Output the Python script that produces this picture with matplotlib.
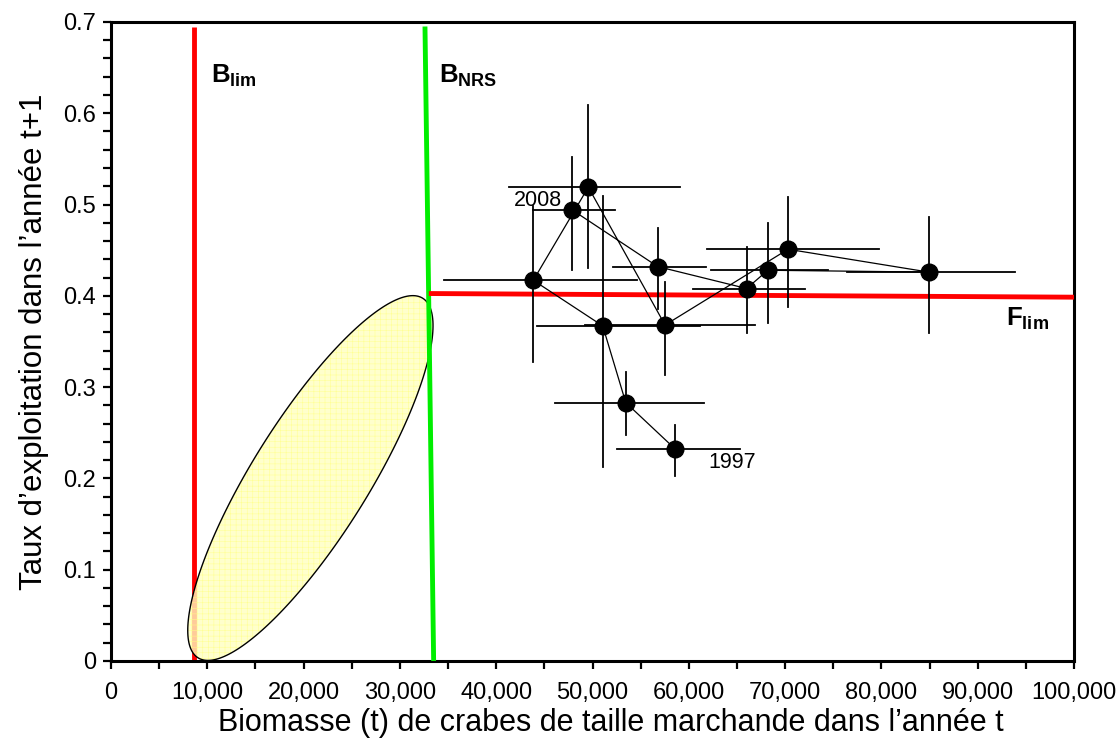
import numpy as np
import matplotlib.pyplot as plt
from matplotlib.patches import Polygon
from matplotlib.ticker import MultipleLocator, FuncFormatter

plt.rcParams['font.family'] = ['Liberation Sans', 'DejaVu Sans']
plt.rcParams['mathtext.fontset'] = 'custom'
plt.rcParams['mathtext.rm'] = 'Liberation Sans'
plt.rcParams['mathtext.bf'] = 'Liberation Sans:bold'
plt.rcParams['hatch.linewidth'] = 0.4

# series: biomass in year t vs exploitation rate in year t+1
years = list(range(1997, 2009))
biomass = [58600, 53450, 51060, 43850, 49560, 57530, 70300, 84900, 68200, 66000, 56770, 47900]
biomass_low = [52500, 46100, 44200, 34600, 41300, 49200, 61900, 76400, 62300, 60400, 52100, 43850]
biomass_high = [65300, 61600, 61200, 54600, 59100, 66900, 79700, 93900, 74500, 72100, 61800, 52300]
expl = [0.232, 0.283, 0.367, 0.417, 0.519, 0.368, 0.451, 0.426, 0.428, 0.408, 0.432, 0.494]
expl_low = [0.203, 0.248, 0.213, 0.328, 0.430, 0.313, 0.388, 0.359, 0.370, 0.359, 0.386, 0.428]
expl_high = [0.258, 0.317, 0.509, 0.498, 0.609, 0.415, 0.508, 0.486, 0.480, 0.454, 0.474, 0.552]

# reference points
b_lim = 8600
b_nrs_top, b_nrs_bottom = 32600, 33500
f_lim_left, f_lim_right = 0.4025, 0.3985
ref_top = 0.695

fig = plt.figure(figsize=(11.16, 7.44), dpi=100)
ax = fig.add_axes([0.0995, 0.1116, 0.8629, 0.8589])
ax.set_xlim(0, 100000)
ax.set_ylim(0, 0.7)

# ellipse zone (center in data, half axes in pixels)
ax_w = 0.8629 * 1116
ax_h = 0.8589 * 744
sx = 100000 / ax_w
sy = 0.7 / ax_h
cx, cy = 20700, 0.2004
a_px, b_px, ang = 212, 58, np.deg2rad(58)
t = np.linspace(0, 2 * np.pi, 240)
u = a_px * np.cos(t)
v = b_px * np.sin(t)
ex = cx + (u * np.cos(ang) - v * np.sin(ang)) * sx
ey = cy + (u * np.sin(ang) + v * np.cos(ang)) * sy
pts = np.column_stack([ex, ey])

ax.plot([b_lim, b_lim], [0, ref_top], color='#ff0000', lw=3.5, zorder=2, solid_capstyle='butt')
ax.add_patch(Polygon(pts, closed=True, facecolor='#ffffc0', edgecolor='#ffff88',
                     lw=0, hatch='+++', alpha=0.8, zorder=3))
ax.add_patch(Polygon(pts, closed=True, fill=False, edgecolor='black', lw=1.0, zorder=4))
ax.plot([b_nrs_top, b_nrs_bottom], [ref_top, 0], color='#00ee00', lw=3.5, zorder=5,
        solid_capstyle='butt')
ax.plot([33000, 100000], [f_lim_left, f_lim_right], color='#ff0000', lw=3.5, zorder=5,
        solid_capstyle='butt')

# error bars
for i in range(len(years)):
    ax.plot([biomass_low[i], biomass_high[i]], [expl[i], expl[i]], color='black', lw=1.3, zorder=6)
    ax.plot([biomass[i], biomass[i]], [expl_low[i], expl_high[i]], color='black', lw=1.3, zorder=6)

ax.plot(biomass, expl, color='black', lw=0.9, zorder=7)
ax.plot(biomass, expl, 'o', color='black', markersize=12, zorder=8)

ax.text(46830, 0.498, str(years[-1]), fontsize=15.5, ha='right', va='baseline', zorder=9)
ax.text(62000, 0.211, str(years[0]), fontsize=15.5, ha='left', va='baseline', zorder=9)

ax.text(10380, 0.634, r'$\mathbf{B}_{\mathbf{lim}}$', fontsize=18.5, va='baseline')
ax.text(34060, 0.634, r'$\mathbf{B}_{\mathbf{NRS}}$', fontsize=18.5, va='baseline')
ax.text(92940, 0.367, r'$\mathbf{F}_{\mathbf{lim}}$', fontsize=18.5, va='baseline')

ax.xaxis.set_major_locator(MultipleLocator(10000))
ax.xaxis.set_minor_locator(MultipleLocator(5000))
ax.yaxis.set_major_locator(MultipleLocator(0.1))
ax.yaxis.set_minor_locator(MultipleLocator(0.02))
ax.xaxis.set_major_formatter(FuncFormatter(lambda v, p: f'{int(v):,}'))
ax.yaxis.set_major_formatter(FuncFormatter(lambda v, p: '0' if v == 0 else f'{v:.1f}'))

ax.tick_params(which='both', direction='out', length=6, width=1.6, top=False, right=False)
ax.tick_params(axis='x', which='major', labelsize=17, pad=9)
ax.tick_params(axis='y', which='major', labelsize=17, pad=5)
for s in ax.spines.values():
    s.set_linewidth(2.2)

ax.set_xlabel("Biomasse (t) de crabes de taille marchande dans l\u2019ann\u00e9e t", fontsize=22, labelpad=3)
ax.set_ylabel("Taux d\u2019exploitation dans l\u2019ann\u00e9e t+1", fontsize=22.5, labelpad=10)
ax.xaxis.label.set_x(0.519)

fig.savefig('out.png', dpi=100)
